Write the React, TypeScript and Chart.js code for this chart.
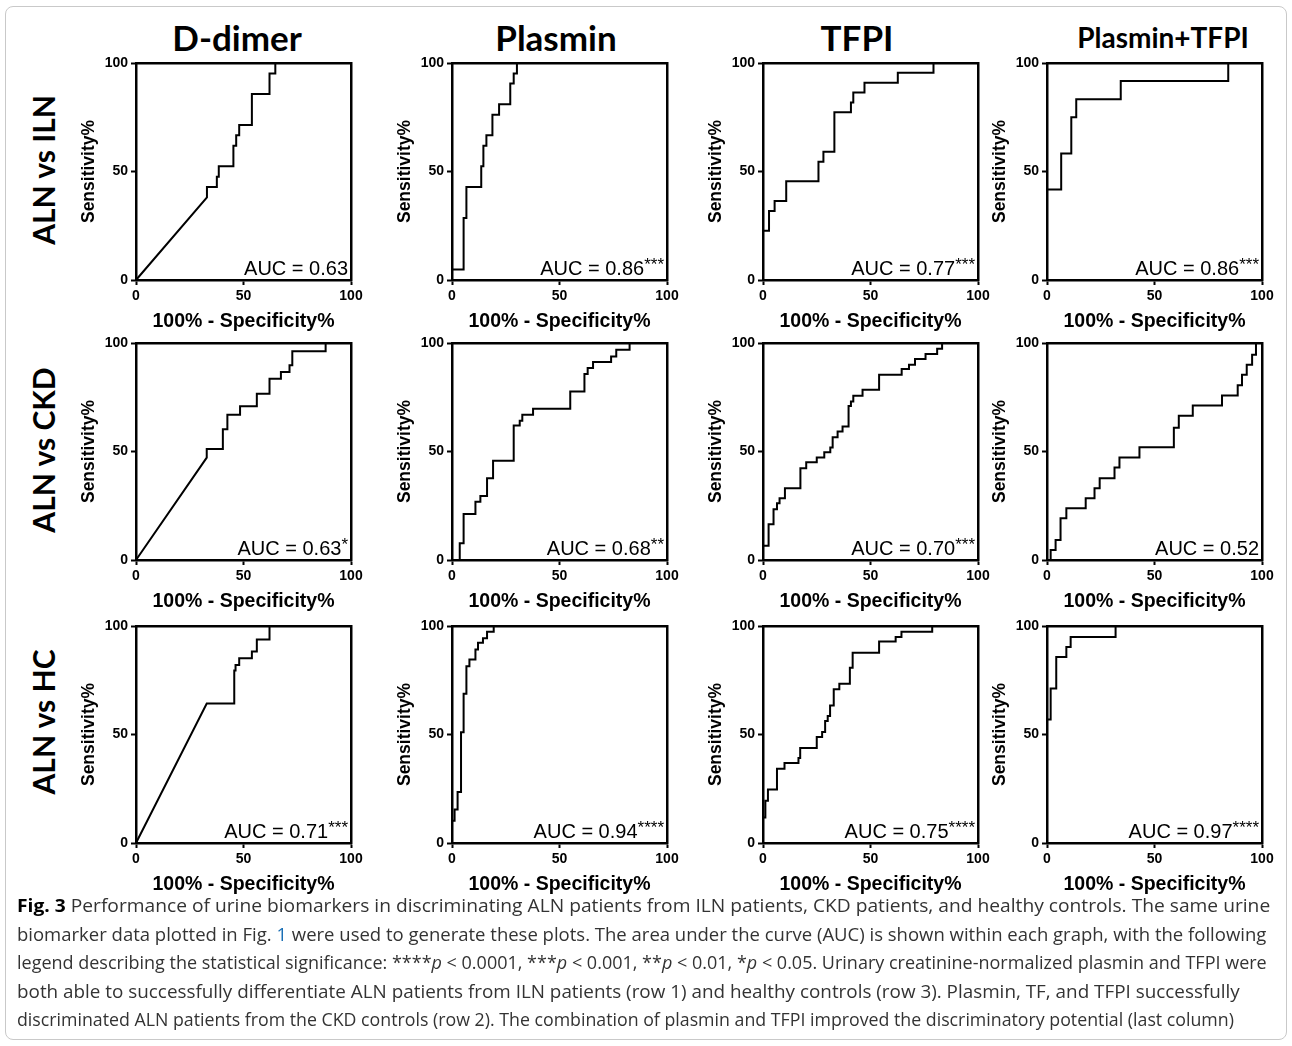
import React, { useEffect, useLayoutEffect, useRef } from "react";
import { Chart, registerables } from "chart.js";

Chart.register(...registerables);

// ---------- data ----------
const columnTitles = ["D-dimer", "Plasmin", "TFPI", "Plasmin+TFPI"];
const rowLabels = ["ALN vs ILN", "ALN vs CKD", "ALN vs HC"];
const tickValues = [0, 50, 100];
const xAxisTitle = "100% - Specificity%";
const yAxisTitle = "Sensitivity%";

const aucRowIln = [0.63, 0.86, 0.77, 0.86];
const aucRowCkd = [0.63, 0.68, 0.7, 0.52];
const aucRowHc = [0.71, 0.94, 0.75, 0.97];
const starsRowIln = ["", "***", "***", "***"];
const starsRowCkd = ["*", "**", "***", ""];
const starsRowHc = ["***", "****", "****", "****"];

// ROC vertices: [100% - specificity%, sensitivity%]
const dDimerIln = [[0,0],[33,38.1],[33,42.9],[37.6,42.9],[37.6,47.6],[38.5,47.6],[38.5,52.4],[45.3,52.4],[45.3,61.9],[46.6,61.9],[46.6,66.7],[48,66.7],[48,71.4],[53.9,71.4],[53.9,85.7],[62.1,85.7],[62.1,95.2],[64.8,95.2],[64.8,100],[100,100]];
const plasminIln = [[0,0],[0,4.8],[5.4,4.8],[5.4,28.6],[6.7,28.6],[6.7,42.9],[13.6,42.9],[13.6,52.4],[14.6,52.4],[14.6,61.9],[16,61.9],[16,66.7],[18.8,66.7],[18.8,76.2],[21.9,76.2],[21.9,81],[27.1,81],[27.1,90.5],[28.7,90.5],[28.7,95.2],[30.2,95.2],[30.2,100],[100,100]];
const tfpiIln = [[0,0],[0,22.7],[2.8,22.7],[2.8,31.8],[5.4,31.8],[5.4,36.4],[10.8,36.4],[10.8,45.5],[25.8,45.5],[25.8,54.5],[28.1,54.5],[28.1,59.1],[33.2,59.1],[33.2,77.3],[40.9,77.3],[40.9,81.8],[42,81.8],[42,86.4],[47.2,86.4],[47.2,90.9],[62.7,90.9],[62.7,95.5],[79.3,95.5],[79.3,100],[100,100]];
const comboIln = [[0,0],[0,41.7],[6.6,41.7],[6.6,58.3],[11.3,58.3],[11.3,75],[13.6,75],[13.6,83.3],[34.3,83.3],[34.3,91.7],[84.3,91.7],[84.3,100],[100,100]];

const dDimerCkd = [[0,0],[32.9,47.2],[32.9,51.1],[40.4,51.1],[40.4,60.3],[42.5,60.3],[42.5,66.9],[48.4,66.9],[48.4,70.8],[56.2,70.8],[56.2,76.6],[62.1,76.6],[62.1,83.5],[67.4,83.5],[67.4,86.6],[71.4,86.6],[71.4,89.7],[72.7,89.7],[72.7,96.2],[88.2,96.2],[88.2,100],[100,100]];
const plasminCkd = [[0,0],[3.6,0],[3.6,7.7],[5.4,7.7],[5.4,21.2],[10.9,21.2],[10.9,26.9],[13.2,26.9],[13.2,29.5],[16.3,29.5],[16.3,37.7],[19.1,37.7],[19.1,45.7],[28.7,45.7],[28.7,62],[31.5,62],[31.5,64.2],[32.7,64.2],[32.7,66.9],[37.7,66.9],[37.7,69.7],[55,69.7],[55,77.7],[61.6,77.7],[61.6,85.7],[63.1,85.7],[63.1,88.5],[65.6,88.5],[65.6,91.2],[74,91.2],[74,93.8],[76.4,93.8],[76.4,96.9],[82.6,96.9],[82.6,100],[100,100]];
const tfpiCkd = [[0,0],[0,6.6],[2.6,6.6],[2.6,16.5],[4.9,16.5],[4.9,23.4],[6.5,23.4],[6.5,26.2],[7.7,26.2],[7.7,28.5],[10.2,28.5],[10.2,33.1],[17.4,33.1],[17.4,42.3],[20.1,42.3],[20.1,45.1],[25,45.1],[25,47.2],[28.5,47.2],[28.5,49.7],[31.3,49.7],[31.3,51.8],[32.4,51.8],[32.4,56.6],[34.7,56.6],[34.7,59.2],[37,59.2],[37,61.5],[39.8,61.5],[39.8,71],[40.9,71],[40.9,73],[42,73],[42,75.7],[46.3,75.7],[46.3,78.5],[54,78.5],[54,85.4],[64.5,85.4],[64.5,88],[67.9,88],[67.9,90],[70.7,90],[70.7,92.6],[75.6,92.6],[75.6,94.9],[81,94.9],[81,97.4],[83.3,97.4],[83.3,100],[100,100]];
const comboCkd = [[0,0],[1.7,0],[1.7,4.6],[4,4.6],[4,9.2],[6.3,9.2],[6.3,19.2],[9,19.2],[9,23.8],[18,23.8],[18,28.5],[22.1,28.5],[22.1,33.1],[24.5,33.1],[24.5,37.7],[31.4,37.7],[31.4,42.6],[33.7,42.6],[33.7,47.2],[43,47.2],[43,52],[59,52],[59,61],[61.3,61],[61.3,66.5],[67.8,66.5],[67.8,71.2],[81.4,71.2],[81.4,75.8],[88.7,75.8],[88.7,80.5],[90.7,80.5],[90.7,85.4],[92.9,85.4],[92.9,90],[95.4,90],[95.4,94.6],[97.2,94.6],[97.2,100],[100,100]];

const dDimerHc = [[0,0],[32.9,64.3],[45.7,64.3],[45.7,79.5],[46.3,79.5],[46.3,82],[48,82],[48,85.1],[53.9,85.1],[53.9,88.2],[56.2,88.2],[56.2,93.8],[62.1,93.8],[62.1,100],[100,100]];
const plasminHc = [[0,0],[0,10.3],[1.2,10.3],[1.2,15.4],[2.6,15.4],[2.6,23.5],[4.2,23.5],[4.2,51],[5.4,51],[5.4,68.8],[6.7,68.8],[6.7,81.5],[8.1,81.5],[8.1,84.6],[10.9,84.6],[10.9,89.2],[12.1,89.2],[12.1,92.3],[14.4,92.3],[14.4,94.3],[16.3,94.3],[16.3,97.4],[19.4,97.4],[19.4,100],[100,100]];
const tfpiHc = [[0,0],[0,11.8],[1.1,11.8],[1.1,19.5],[2.3,19.5],[2.3,24.6],[6.5,24.6],[6.5,34.2],[10,34.2],[10,36.9],[16.5,36.9],[16.5,39.2],[17.3,39.2],[17.3,43.8],[25,43.8],[25,48.9],[27.5,48.9],[27.5,51.1],[28.9,51.1],[28.9,56.2],[30.1,56.2],[30.1,58.5],[31.2,58.5],[31.2,63.4],[32.9,63.4],[32.9,70.8],[35.5,70.8],[35.5,73.4],[40.4,73.4],[40.4,80.8],[41.7,80.8],[41.7,87.7],[54,87.7],[54,92.8],[61.7,92.8],[61.7,94.9],[64.4,94.9],[64.4,97.4],[78.7,97.4],[78.7,100],[100,100]];
const comboHc = [[0,0],[0,56.9],[1.7,56.9],[1.7,71.2],[4.3,71.2],[4.3,85.7],[9,85.7],[9,90.3],[11,90.3],[11,94.9],[31.9,94.9],[31.9,100],[100,100]];

const curveRows = [
  [dDimerIln, plasminIln, tfpiIln, comboIln],
  [dDimerCkd, plasminCkd, tfpiCkd, comboCkd],
  [dDimerHc, plasminHc, tfpiHc, comboHc],
];
const aucRows = [aucRowIln, aucRowCkd, aucRowHc];
const starRows = [starsRowIln, starsRowCkd, starsRowHc];

// ---------- layout ----------
const PLOT_LEFTS = [136, 452, 763, 1047];
const PLOT_TOPS = [63, 343, 626];
const PLOT_W = 215;
const PLOT_H = 217;
const Y_AXIS_W = 61;
const X_AXIS_H = 56;
const PAD_TOP = 12;
const PAD_RIGHT = 24;
const TITLE_CENTERS = [237, 556, 857, 1163];
const ROW_CENTERS = [170, 450, 722];
const CAPTION_LEFT = 17;
const CAPTION_RIGHTS = [1270, 1266, 1267, 1240, 1234];
const FONT = '"Liberation Sans", Arial, sans-serif';

const aucPlugin = {
  id: "aucLabel",
  afterDatasetsDraw(chart: any, _args: any, opts: any) {
    const { ctx, chartArea } = chart;
    const main = `AUC = ${Number(opts.value).toFixed(2)}`;
    const stars = opts.stars || "";
    ctx.save();
    ctx.fillStyle = "#000";
    ctx.textBaseline = "alphabetic";
    ctx.textAlign = "left";
    ctx.font = `17px ${FONT}`;
    const starW = stars ? ctx.measureText(stars).width : 0;
    ctx.font = `20px ${FONT}`;
    const mainW = ctx.measureText(main).width;
    const right = chartArea.right - 3;
    const base = chartArea.bottom - 5;
    ctx.fillText(main, right - starW - mainW, base);
    if (stars) {
      ctx.font = `17px ${FONT}`;
      ctx.fillText(stars, right - starW, base - 5);
    }
    ctx.restore();
  },
};

function RocPanel({ points, auc, stars, col, row }: any) {
  const ref = useRef<HTMLCanvasElement | null>(null);
  useEffect(() => {
    if (!ref.current) return;
    const axisBase = {
      type: "linear" as const,
      min: 0,
      max: 100,
      border: { display: true, color: "#000", width: 2.5 },
    };
    const chart = new Chart(ref.current, {
      type: "scatter",
      data: {
        datasets: [
          {
            data: points.map((p: number[]) => ({ x: p[0], y: p[1] })),
            showLine: true,
            borderColor: "#000",
            borderWidth: 2,
            pointRadius: 0,
            pointHoverRadius: 0,
            tension: 0,
            fill: false,
            clip: 4,
          },
        ],
      },
      options: {
        animation: false,
        responsive: false,
        events: [],
        layout: { padding: { top: PAD_TOP, right: PAD_RIGHT, bottom: 0, left: 0 } },
        plugins: {
          legend: { display: false },
          tooltip: { enabled: false },
          aucLabel: { value: auc, stars },
        } as any,
        scales: {
          x: {
            ...axisBase,
            position: "bottom",
            afterBuildTicks: (s: any) => {
              s.ticks = tickValues.map((v) => ({ value: v }));
            },
            ticks: {
              color: "#000",
              font: { family: FONT, weight: "bold", size: 14 },
              padding: 3,
              maxRotation: 0,
              autoSkip: false,
            },
            grid: {
              display: true,
              drawOnChartArea: false,
              drawTicks: true,
              tickLength: 5,
              tickWidth: 2,
              tickColor: "#000",
            },
            title: {
              display: true,
              text: xAxisTitle,
              color: "#000",
              font: { family: FONT, weight: "bold", size: 19.5 },
              padding: { top: 0, bottom: 3 },
            },
            afterFit: (s: any) => {
              s.height = X_AXIS_H;
            },
          },
          y: {
            ...axisBase,
            position: "left",
            afterBuildTicks: (s: any) => {
              s.ticks = tickValues.map((v) => ({ value: v }));
            },
            ticks: {
              color: "#000",
              font: { family: FONT, weight: "bold", size: 14 },
              padding: 3,
              autoSkip: false,
            },
            grid: {
              display: true,
              drawOnChartArea: false,
              drawTicks: true,
              tickLength: 5,
              tickWidth: 2,
              tickColor: "#000",
            },
            title: {
              display: true,
              text: yAxisTitle,
              color: "#000",
              font: { family: FONT, weight: "bold", size: 17.5 },
              padding: { top: 4, bottom: 0 },
            },
            afterFit: (s: any) => {
              s.width = Y_AXIS_W;
            },
          },
          x2: {
            ...axisBase,
            position: "top",
            ticks: { display: false },
            grid: { display: false, drawTicks: false },
            afterFit: (s: any) => {
              s.height = 0;
            },
          },
          y2: {
            ...axisBase,
            position: "right",
            ticks: { display: false },
            grid: { display: false, drawTicks: false },
            afterFit: (s: any) => {
              s.width = 0;
            },
          },
        } as any,
      },
      plugins: [aucPlugin as any],
    });
    return () => chart.destroy();
  }, [points, auc, stars]);

  const w = Y_AXIS_W + PLOT_W + PAD_RIGHT;
  const h = PAD_TOP + PLOT_H + X_AXIS_H;
  return (
    <canvas
      ref={ref}
      width={w}
      height={h}
      style={{
        position: "absolute",
        left: PLOT_LEFTS[col] - Y_AXIS_W,
        top: PLOT_TOPS[row] - PAD_TOP,
        width: w,
        height: h,
      }}
    />
  );
}

function CaptionLine({ index, children }: any) {
  const ref = useRef<HTMLDivElement | null>(null);
  useLayoutEffect(() => {
    const el = ref.current;
    if (!el) return;
    el.style.transform = "none";
    const natural = el.scrollWidth;
    const target = CAPTION_RIGHTS[index] - CAPTION_LEFT;
    if (natural > 0) el.style.transform = `scaleX(${target / natural})`;
  });
  return (
    <div
      ref={ref}
      style={{
        position: "absolute",
        left: CAPTION_LEFT,
        top: 891 + index * 28.5,
        height: 28.5,
        lineHeight: "28.5px",
        fontFamily: '"Open Sans", sans-serif',
        fontSize: 18.5,
        color: "#333",
        whiteSpace: "nowrap",
        display: "inline-block",
        transformOrigin: "0 50%",
      }}
    >
      {children}
    </div>
  );
}

const linkColor = "#1a6fb5";

export default function App() {
  const captionLines = [
    <>
      <b style={{ color: "#000" }}>Fig. 3</b> Performance of urine biomarkers in discriminating ALN patients from ILN patients, CKD patients, and healthy controls. The same urine
    </>,
    <>
      biomarker data plotted in Fig. <span style={{ color: linkColor }}>1</span> were used to generate these plots. The area under the curve (AUC) is shown within each graph, with the following
    </>,
    <>
      legend describing the statistical significance: ****<i>p</i> &lt; 0.0001, ***<i>p</i> &lt; 0.001, **<i>p</i> &lt; 0.01, *<i>p</i> &lt; 0.05. Urinary creatinine-normalized plasmin and TFPI were
    </>,
    <>
      both able to successfully differentiate ALN patients from ILN patients (row 1) and healthy controls (row 3). Plasmin, TF, and TFPI successfully
    </>,
    <>
      discriminated ALN patients from the CKD controls (row 2). The combination of plasmin and TFPI improved the discriminatory potential (last column)
    </>,
  ];

  return (
    <div
      style={{
        position: "absolute",
        left: 0,
        top: 0,
        width: 1292,
        height: 1046,
        background: "#fff",
        overflow: "hidden",
      }}
    >
      <div
        style={{
          position: "absolute",
          left: 5,
          top: 6,
          width: 1280,
          height: 1032,
          border: "1px solid #c9c9c9",
          borderRadius: 8,
        }}
      />
      {columnTitles.map((t, i) => (
        <div
          key={t}
          style={{
            position: "absolute",
            left: TITLE_CENTERS[i],
            top: 37,
            transform: "translate(-50%, -50%)",
            fontFamily: "Lato, sans-serif",
            fontWeight: 700,
            fontSize: i === 3 ? 28 : 35,
            lineHeight: 1,
            whiteSpace: "nowrap",
            color: "#000",
          }}
        >
          {t}
        </div>
      ))}
      {rowLabels.map((t, i) => (
        <div
          key={t}
          style={{
            position: "absolute",
            left: 43,
            top: ROW_CENTERS[i],
            transform: "translate(-50%, -50%) rotate(-90deg)",
            fontFamily: "Lato, sans-serif",
            fontWeight: 700,
            fontSize: 30,
            lineHeight: 1,
            whiteSpace: "nowrap",
            color: "#000",
          }}
        >
          {t}
        </div>
      ))}
      {curveRows.map((rowCurves, r) =>
        rowCurves.map((pts, c) => (
          <RocPanel
            key={`${r}-${c}`}
            points={pts}
            auc={aucRows[r][c]}
            stars={starRows[r][c]}
            col={c}
            row={r}
          />
        ))
      )}
      {captionLines.map((line, i) => (
        <CaptionLine key={i} index={i}>
          {line}
        </CaptionLine>
      ))}
    </div>
  );
}
